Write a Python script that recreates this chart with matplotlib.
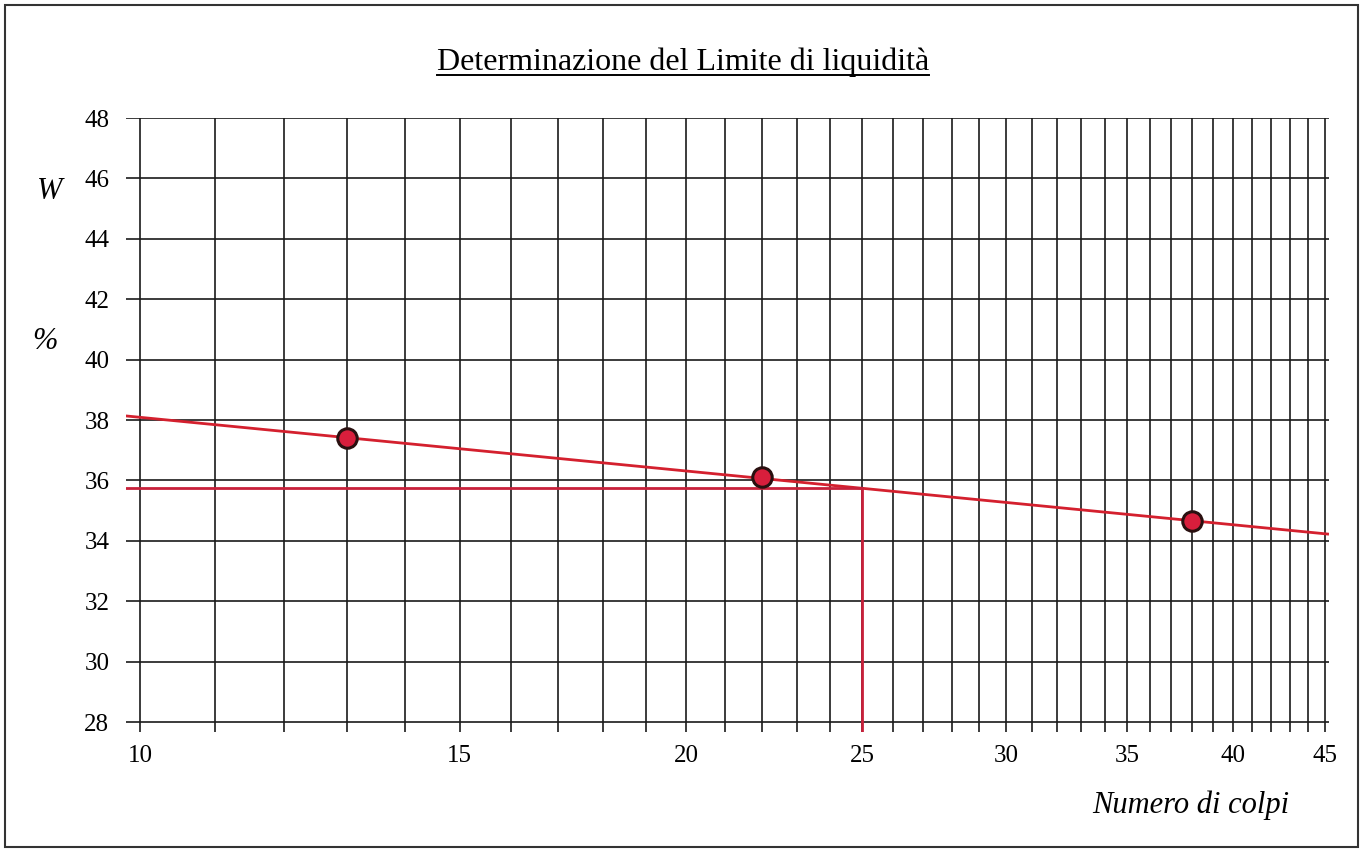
import numpy as np
import matplotlib.pyplot as plt
from matplotlib.lines import Line2D
from matplotlib.patches import Rectangle

plt.rcParams['font.family'] = ['Liberation Serif', 'DejaVu Serif']

# dati
colpi = [13, 22, 38]
umidita = [37.4, 36.1, 34.65]
x_ticks = [10, 15, 20, 25, 30, 35, 40, 45]
y_ticks = [28, 30, 32, 34, 36, 38, 40, 42, 44, 46, 48]
n_rif = 25

# retta di regressione semilogaritmica
coef = np.polyfit(np.log10(colpi), umidita, 1)
def retta(x):
    return coef[0] * np.log10(x) + coef[1]

wl = retta(n_rif)

fig = plt.figure(figsize=(13.66, 8.52), dpi=100)
ax = fig.add_axes([0.0922, 0.1408, 0.8807, 0.7207])
ax.set_xscale('log')
x_min, x_max = 9.82, 45.2
y_min, y_max = 27.67, 48
ax.set_xlim(x_min, x_max)
ax.set_ylim(y_min, y_max)

for v in range(10, 46):
    ax.axvline(v, color='#1a1a1a', lw=1.2, zorder=1)
for h in y_ticks:
    ax.axhline(h, color='#1a1a1a', lw=1.2, zorder=1)

for s in ax.spines.values():
    s.set_visible(False)

ax.set_xticks(x_ticks)
ax.set_xticklabels([str(t) for t in x_ticks])
ax.xaxis.set_minor_locator(plt.NullLocator())
ax.set_yticks(y_ticks)
ax.tick_params(axis='both', length=0, labelsize=18)
ax.tick_params(axis='x', pad=9)
ax.tick_params(axis='y', pad=12)

# retta e linee di lettura
xx = np.array([x_min, x_max])
ax.plot(xx, retta(xx), color='#d4202e', lw=2, zorder=3, solid_capstyle='butt')
ax.plot([x_min, n_rif], [wl, wl], color='#c8203a', lw=2, zorder=3)
ax.plot([n_rif, n_rif], [y_min, wl], color='#c8203a', lw=2, zorder=3)
ax.plot(colpi, umidita, 'o', ms=14, mfc='#d81e3c', mec='#2a1010', mew=2.2, zorder=4)

t = fig.text(0.5, 0.927, 'Determinazione del Limite di liquidità', ha='center',
             va='center', fontsize=23)
fig.text(0.036, 0.775, 'W', fontsize=22, style='italic', ha='center', va='center')
fig.text(0.033, 0.599, '%', fontsize=22, style='italic', ha='center', va='center')
fig.text(0.944, 0.055, 'Numero di colpi', fontsize=22, style='italic',
         ha='right', va='center')

# sottolineatura del titolo
fig.canvas.draw()
bb = t.get_window_extent().transformed(fig.transFigure.inverted())
fig.add_artist(Line2D([bb.x0, bb.x1], [bb.y0 + 0.002, bb.y0 + 0.002],
                      color='black', lw=1.4, transform=fig.transFigure))

fig.add_artist(Rectangle((0.004, 0.006), 0.99, 0.988, fill=False,
                         edgecolor='#333333', lw=1.5, transform=fig.transFigure))

fig.savefig('out.png', dpi=100)
